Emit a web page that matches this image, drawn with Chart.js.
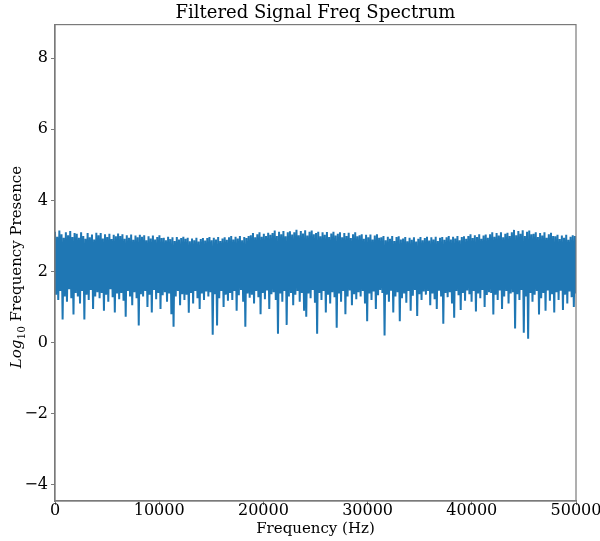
<!DOCTYPE html>
<html>
<head>
<meta charset="utf-8">
<script src="https://cdn.jsdelivr.net/npm/chart.js@4.4.1/dist/chart.umd.min.js"></script>
<style>
  html, body { margin: 0; padding: 0; background: #ffffff; }
  #wrap { width: 600px; height: 541px; }
</style>
</head>
<body>
<div id="wrap"><canvas id="c" width="600" height="541"></canvas></div>
<script>
// ---- Data ----
const chartTitle = 'Filtered Signal Freq Spectrum';
const xAxisTitle = 'Frequency (Hz)';
const yTitleMain = 'Log';
const yTitleSub = '10';
const yTitleRest = ' Frequency Presence';
const xTickValues = [0, 10000, 20000, 30000, 40000, 50000];
const yTickValues = [-4, -2, 0, 2, 4, 6, 8];
const freqMaxHz = 50000;
// log10 magnitude, alternating peak / trough samples across the spectrum
const signalLog10 = [
  3.12,1.35, 2.98,1.20, 3.15,1.45, 3.05,0.65, 2.95,1.30, 3.10,1.15, 3.02,1.50, 3.14,1.25, 2.97,0.79, 3.08,1.40,
  3.06,1.30, 2.95,1.10, 3.10,1.45, 3.00,0.65, 2.92,1.35, 3.08,1.20, 2.96,1.48, 3.04,0.95, 2.90,1.30, 3.09,1.42,
  3.02,1.25, 3.08,1.40, 2.93,0.90, 3.05,1.35, 2.97,1.15, 3.06,1.50, 2.91,1.28, 3.03,0.85, 2.99,1.38, 3.07,1.22,
  3.00,1.40, 3.05,1.18, 2.92,0.73, 3.02,1.45, 2.95,1.30, 3.04,1.05, 2.89,1.42, 3.01,1.25, 2.96,0.48, 3.03,1.36,
  2.98,1.30, 3.02,1.45, 2.88,1.00, 2.99,1.35, 2.93,0.85, 3.01,1.48, 2.90,1.22, 2.97,1.40, 3.02,0.95, 2.94,1.33,
  2.95,1.42, 2.88,1.15, 2.98,1.38, 2.91,0.80, 2.96,0.45, 2.86,1.30, 2.97,1.45, 2.90,1.05, 2.94,1.36, 2.98,1.20,
  2.92,1.35, 2.95,0.84, 2.85,1.40, 2.93,1.10, 2.88,1.45, 2.95,1.25, 2.84,0.95, 2.91,1.38, 2.94,1.20, 2.87,1.44,
  2.94,1.30, 2.97,1.42, 2.88,0.22, 2.95,1.36, 2.90,0.48, 2.97,1.25, 2.86,1.45, 2.93,1.00, 2.96,1.35, 2.89,1.18,
  2.96,1.40, 3.00,1.20, 2.90,1.45, 2.98,0.90, 2.93,1.33, 3.00,1.48, 2.88,1.15, 2.97,0.45, 2.94,1.38, 3.00,1.26,
  3.02,1.35, 3.08,1.10, 2.96,1.45, 3.05,1.28, 3.10,0.80, 2.98,1.40, 3.06,1.22, 3.00,1.47, 3.09,0.95, 3.03,1.36,
  3.08,1.42, 3.15,1.20, 3.00,0.25, 3.12,1.38, 3.05,1.15, 3.14,1.45, 2.99,0.50, 3.10,1.30, 3.13,1.40, 3.04,1.05,
  3.10,1.35, 3.17,1.45, 3.02,1.15, 3.14,1.40, 3.07,0.90, 3.16,0.73, 3.01,1.38, 3.12,1.25, 3.15,1.48, 3.05,1.12,
  3.08,0.25, 3.12,1.40, 2.99,1.20, 3.10,1.45, 3.03,0.85, 3.11,1.35, 2.97,1.10, 3.07,1.42, 3.12,1.28, 3.01,0.42,
  3.06,1.38, 3.10,1.15, 2.96,1.45, 3.08,0.80, 3.00,1.30, 3.09,1.47, 2.94,1.05, 3.05,1.36, 3.10,1.22, 2.99,1.42,
  3.02,1.30, 3.05,1.45, 2.92,1.10, 3.03,0.60, 2.96,1.38, 3.04,1.20, 2.90,1.44, 3.01,0.95, 3.05,1.33, 2.95,1.48,
  2.96,1.40, 3.00,0.20, 2.88,1.35, 2.98,1.15, 2.92,1.46, 3.00,0.85, 2.86,1.30, 2.97,1.42, 2.99,0.60, 2.90,1.25,
  2.93,1.38, 2.97,1.12, 2.85,1.45, 2.95,0.90, 2.89,1.32, 2.96,1.48, 2.84,0.75, 2.92,1.36, 2.97,1.20, 2.88,1.44,
  2.94,1.35, 2.98,1.45, 2.87,1.05, 2.96,1.38, 2.90,1.22, 2.98,0.95, 2.86,1.46, 2.95,1.30, 2.97,0.53, 2.89,1.40,
  2.96,1.28, 3.00,1.42, 2.90,1.10, 2.98,0.70, 2.93,1.45, 3.00,1.33, 2.88,0.92, 2.97,1.40, 2.99,1.18, 2.92,1.47,
  3.00,1.36, 3.05,1.15, 2.94,1.45, 3.02,0.88, 2.97,1.38, 3.05,1.25, 2.92,1.48, 3.01,1.00, 3.04,1.34, 2.95,1.42,
  3.05,1.40, 3.10,0.79, 2.98,1.35, 3.08,1.20, 3.01,1.47, 3.10,0.95, 2.96,1.30, 3.06,1.45, 3.09,1.10, 3.00,1.38,
  3.10,1.42, 3.17,0.40, 3.02,1.36, 3.14,1.20, 3.06,1.48, 3.16,0.28, 3.00,1.30, 3.12,0.11, 3.15,1.40, 3.05,1.15,
  3.06,1.35, 3.10,1.45, 2.97,0.79, 3.08,1.25, 3.01,1.40, 3.10,0.90, 2.95,1.47, 3.05,1.18, 3.09,1.36, 3.00,0.85,
  2.99,1.42, 3.03,1.20, 2.91,1.46, 3.01,0.92, 2.95,1.35, 3.03,1.10, 2.89,1.44, 2.98,1.28, 3.02,1.00, 3.00,1.38
];

// frequency of each FFT bin (evenly spaced bins from 0 to freqMaxHz)
const points = signalLog10.map((v, i) => ({ x: i * freqMaxHz / (signalLog10.length - 1), y: v }));

const FONT = "'DejaVu Serif', serif";
const SPINE = '#7a7a7a';

const framePlugin = {
  id: 'frame',
  afterDatasetsDraw(chart) {
    const { ctx, chartArea: a } = chart;
    ctx.save();
    ctx.strokeStyle = SPINE;
    ctx.lineWidth = 1.2;
    ctx.strokeRect(a.left, a.top, a.right - a.left, a.bottom - a.top);
    ctx.restore();
  },
  afterDraw(chart) {
    const { ctx } = chart;
    ctx.save();
    ctx.fillStyle = '#000';
    ctx.textBaseline = 'alphabetic';
    const fMain = "italic 15px " + FONT;
    const fSub = "10.5px " + FONT;
    const fRest = "15px " + FONT;
    ctx.font = fMain; const w1 = ctx.measureText(yTitleMain).width;
    ctx.font = fSub;  const w2 = ctx.measureText(yTitleSub).width;
    ctx.font = fRest; const w3 = ctx.measureText(yTitleRest).width;
    const total = w1 + w2 + w3;
    ctx.translate(21, 267);
    ctx.rotate(-Math.PI / 2);
    let x = -total / 2;
    ctx.font = fMain; ctx.fillText(yTitleMain, x, 0); x += w1;
    ctx.font = fSub;  ctx.fillText(yTitleSub, x, 3.5); x += w2;
    ctx.font = fRest; ctx.fillText(yTitleRest, x, 0);
    ctx.restore();
  }
};

new Chart(document.getElementById('c'), {
  type: 'line',
  data: {
    datasets: [{
      data: points,
      borderColor: '#1f77b4',
      borderWidth: 2,
      pointRadius: 0,
      fill: false,
      tension: 0
    }]
  },
  options: {
    responsive: false,
    animation: false,
    devicePixelRatio: 1,
    layout: { padding: { left: 0, right: 24, top: 0, bottom: 0 } },
    plugins: {
      legend: { display: false },
      tooltip: { enabled: false },
      title: {
        display: true,
        text: chartTitle,
        fullSize: false,
        color: '#000',
        font: { family: FONT, size: 18, weight: 'normal', lineHeight: 1.2 },
        padding: { top: 3, bottom: 0 }
      }
    },
    scales: {
      x: {
        type: 'linear',
        min: 0,
        max: freqMaxHz,
        afterFit(s) { s.height = 40; },
        afterBuildTicks(s) { s.ticks = xTickValues.map(v => ({ value: v })); },
        grid: { drawOnChartArea: false, drawTicks: true, tickLength: 4, tickColor: SPINE, tickWidth: 1 },
        border: { display: true, color: SPINE, width: 1.2 },
        ticks: {
          color: '#000',
          font: { family: FONT, size: 16, lineHeight: 1 },
          padding: -2,
          maxRotation: 0,
          autoSkip: false,
          callback: v => String(v)
        },
        title: {
          display: true,
          text: xAxisTitle,
          color: '#000',
          font: { family: FONT, size: 15, lineHeight: 1.2 },
          padding: { top: 0, bottom: 3 }
        }
      },
      y: {
        type: 'linear',
        min: -4.45,
        max: 8.94,
        afterFit(s) { s.width = 55; },
        afterBuildTicks(s) { s.ticks = yTickValues.map(v => ({ value: v })); },
        grid: { drawOnChartArea: false, drawTicks: true, tickLength: 4, tickColor: SPINE, tickWidth: 1 },
        border: { display: true, color: SPINE, width: 1.2 },
        ticks: {
          color: '#000',
          font: { family: FONT, size: 16 },
          padding: 3,
          autoSkip: false,
          callback: v => String(v).replace('-', '\u2212')
        }
      }
    }
  },
  plugins: [framePlugin]
});
</script>
</body>
</html>
